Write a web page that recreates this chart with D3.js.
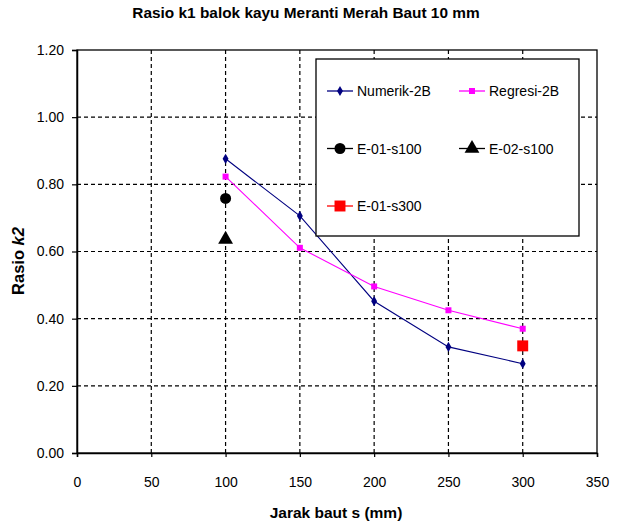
<!DOCTYPE html>
<html><head><meta charset="utf-8">
<script src="https://cdn.jsdelivr.net/npm/d3@7"></script>
<style>body{margin:0;background:#fff}svg{display:block}text{font-family:"Liberation Sans",Arial,sans-serif}</style>
</head><body><svg id="c" width="621" height="526"></svg>
<script>
const xPositions = [100, 150, 200, 250, 300];
const numerik2B = [0.876, 0.706, 0.452, 0.316, 0.266];
const regresi2B = [0.823, 0.611, 0.496, 0.425, 0.370];
const e01s100 = [{x: 100, y: 0.758}];
const e02s100 = [{x: 100, y: 0.636}];
const e01s300 = [{x: 300, y: 0.319}];
const xTicks = [0, 50, 100, 150, 200, 250, 300, 350];
const yTicks = [0, 0.2, 0.4, 0.6, 0.8, 1.0, 1.2];

const svg = d3.select("#c");
const x = d3.scaleLinear().domain([0, 350]).range([77, 597]);
const y = d3.scaleLinear().domain([0, 1.2]).range([453, 50]);

// title
svg.append("text").attr("x", 306).attr("y", 18).attr("text-anchor", "middle")
  .attr("font-size", 15.4).attr("font-weight", "bold")
  .text("Rasio k1 balok kayu Meranti Merah Baut 10 mm");

// gridlines
const grid = svg.append("g");
grid.selectAll(".gv").data(xTicks.filter(d => d > 0 && d < 350)).join("line")
  .attr("x1", d => x(d)).attr("x2", d => x(d)).attr("y1", y(1.2)).attr("y2", y(0))
  .attr("stroke", "#000").attr("stroke-width", 1.2).attr("stroke-dasharray", "4,3");
grid.selectAll(".gh").data(yTicks.filter(d => d > 0 && d < 1.2)).join("line")
  .attr("y1", d => y(d)).attr("y2", d => y(d)).attr("x1", x(0)).attr("x2", x(350))
  .attr("stroke", "#000").attr("stroke-width", 1.2).attr("stroke-dasharray", "4,3");

// frame
svg.append("rect").attr("x", x(0)).attr("y", y(1.2)).attr("width", x(350) - x(0)).attr("height", y(0) - y(1.2))
  .attr("fill", "none").attr("stroke", "#000").attr("stroke-width", 1.3);

// axes
const xAxis = svg.append("g").attr("transform", `translate(0,${y(0)})`)
  .call(d3.axisBottom(x).tickValues(xTicks).tickFormat(d3.format("d")).tickSize(4).tickPadding(20));
const yAxis = svg.append("g").attr("transform", `translate(${x(0)},0)`)
  .call(d3.axisLeft(y).tickValues(yTicks).tickFormat(d3.format(".2f")).tickSize(5).tickPadding(8));
[xAxis, yAxis].forEach(a => {
  a.select(".domain").attr("stroke", "#000").attr("stroke-width", 1.5);
  a.selectAll(".tick line").attr("stroke", "#000").attr("stroke-width", 1.2);
  a.selectAll(".tick text").attr("font-size", 14).attr("fill", "#000").attr("font-family", "Liberation Sans, Arial, sans-serif");
});

// axis titles
svg.append("text").attr("x", 336).attr("y", 518).attr("text-anchor", "middle")
  .attr("font-size", 15.5).attr("font-weight", "bold").text("Jarak baut s (mm)");
const yt = svg.append("text").attr("transform", "translate(24,261) rotate(-90)").attr("text-anchor", "middle")
  .attr("font-size", 16.5).attr("font-weight", "bold");
yt.append("tspan").text("Rasio ");
yt.append("tspan").attr("font-style", "italic").text("k2");

// series
const line = d3.line().x(d => x(d.x)).y(d => y(d.y));
const numData = xPositions.map((v, i) => ({x: v, y: numerik2B[i]}));
const regData = xPositions.map((v, i) => ({x: v, y: regresi2B[i]}));
svg.append("path").datum(numData).attr("d", line).attr("fill", "none").attr("stroke", "#000080").attr("stroke-width", 1.1);
svg.append("path").datum(regData).attr("d", line).attr("fill", "none").attr("stroke", "#ff00ff").attr("stroke-width", 1.1);

const sym = (type, size) => d3.symbol().type(type).size(size)();
function drawMarkers(data, type, size, color) {
  svg.append("g").selectAll("path").data(data).join("path")
    .attr("transform", d => `translate(${x(d.x)},${y(d.y)})`)
    .attr("d", sym(type, size)).attr("fill", color);
}
drawMarkers(numData, d3.symbolDiamond, 30, "#000080");
drawMarkers(regData, d3.symbolSquare, 36, "#ff00ff");
drawMarkers(e01s100, d3.symbolCircle, 95, "#000");
drawMarkers(e02s100, d3.symbolTriangle, 95, "#000");
drawMarkers(e01s300, d3.symbolSquare, 120, "#ff0000");

// legend
const lg = svg.append("g");
lg.append("rect").attr("x", 316).attr("y", 59).attr("width", 263).attr("height", 177)
  .attr("fill", "#fff").attr("stroke", "#000").attr("stroke-width", 1.3);
const legendItems = [
  {name: "Numerik-2B", color: "#000080", type: d3.symbolDiamond, size: 30, col: 0, row: 0},
  {name: "Regresi-2B", color: "#ff00ff", type: d3.symbolSquare, size: 36, col: 1, row: 0},
  {name: "E-01-s100", color: "#000", type: d3.symbolCircle, size: 95, col: 0, row: 1},
  {name: "E-02-s100", color: "#000", type: d3.symbolTriangle, size: 95, col: 1, row: 1},
  {name: "E-01-s300", color: "#ff0000", type: d3.symbolSquare, size: 120, col: 0, row: 2}
];
legendItems.forEach(it => {
  const lx = 327 + it.col * 132, ly = 91 + it.row * 57.5;
  lg.append("line").attr("x1", lx).attr("x2", lx + 26).attr("y1", ly).attr("y2", ly)
    .attr("stroke", it.color).attr("stroke-width", 1.3);
  lg.append("path").attr("transform", `translate(${lx + 13},${ly})`).attr("d", sym(it.type, it.size)).attr("fill", it.color);
  lg.append("text").attr("x", lx + 30).attr("y", ly + 5).attr("font-size", 14).text(it.name);
});
</script></body></html>
